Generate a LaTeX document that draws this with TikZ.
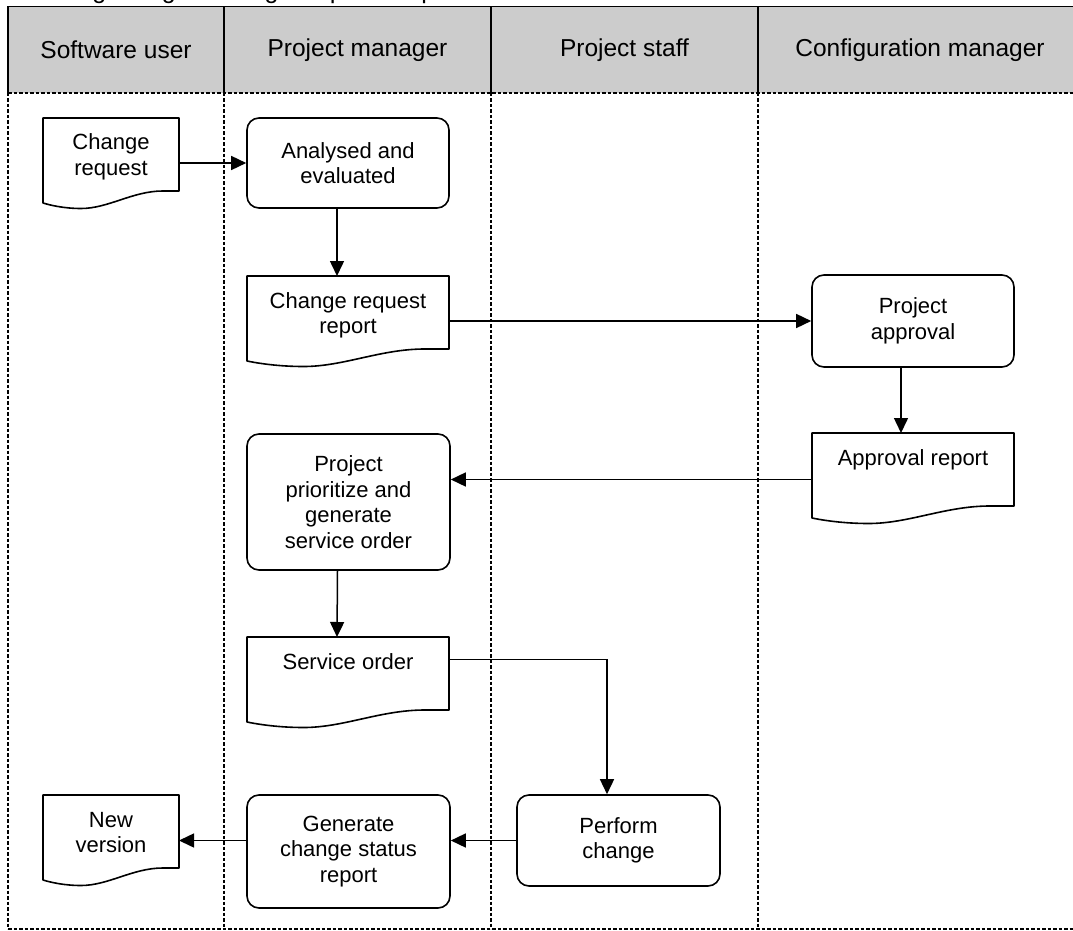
\documentclass[tikz,border=0pt]{standalone}
\usepackage{fontspec}
\setmainfont{Liberation Sans}
\usetikzlibrary{arrows.meta,calc}
\definecolor{headgray}{RGB}{204,204,204}
\tikzset{
  shapeline/.style={draw=black,line width=1.6pt,line join=round},
  procbox/.style={shapeline,rounded corners=12pt,inner sep=0pt,align=center,
    font=\fontsize{22}{25.5}\selectfont},
  docnode/.style={inner sep=0pt,outer sep=0pt,align=center,
    font=\fontsize{22}{25.5}\selectfont},
  headcell/.style={fill=headgray,inner sep=0pt,outer sep=0pt,
    font=\fontsize{24.5}{28}\selectfont},
  lanedash/.style={line width=1.2pt,dash pattern=on 3.5pt off 2pt},
  headline/.style={line width=1.4pt},
  arr/.style={line width=1.5pt,-{Triangle[length=15pt,width=14pt]}},
}
\newcommand\doctext[2]{\parbox[c][73pt][t]{#1pt}{\centering\rule{0pt}{32pt}#2\par}}
\newcommand\docoutline[2]{%
  \draw[shapeline] (#1.north west) -- (#1.north east) -- (#1.south east)
    -- ($(#1.south east)+(-0.12*#2,0)$)
    .. controls ($(#1.south east)+(-0.34*#2,0)$) and ($(#1.south west)+(0.48*#2,17.5)$)
    .. ($(#1.south west)+(0.28*#2,17.5)$)
    .. controls ($(#1.south west)+(0.16*#2,17.5)$) and ($(#1.south west)+(0.06*#2,14.5)$)
    .. ($(#1.south west)+(0,12)$) -- cycle;}
\begin{document}
\begin{tikzpicture}[x=1pt,y=-1pt]
\useasboundingbox (0,0) rectangle (1073,931);
% partially visible caption at the top
\node[anchor=base east,inner sep=0pt,font=\fontsize{25}{28}\selectfont] (cap) at (498,-1.5) {Regarding to change request's updated};
% header cells
\node[headcell,minimum width=216pt,minimum height=86.5pt] (h1) at (116,49.75) {Software user};
\node[headcell,minimum width=267pt,minimum height=86.5pt] (h2) at (357.5,49.75) {Project manager};
\node[headcell,minimum width=267pt,minimum height=86.5pt] (h3) at (624.5,49.75) {Project staff};
\node[headcell,minimum width=324pt,minimum height=86.5pt] (h4) at (920,49.75) {Configuration manager};
% header lines
\draw[headline] (8,6.5) -- (1082,6.5);
\draw[headline] (8,6.5) -- (8,93);
\draw[headline] (224,6.5) -- (224,93);
\draw[headline] (491,6.5) -- (491,93);
\draw[headline] (758,6.5) -- (758,93);
\draw[lanedash] (8,93) -- (1082,93);
% lane lines
\draw[lanedash] (8,93) -- (8,929);
\draw[lanedash] (224,93) -- (224,929);
\draw[lanedash] (491,93) -- (491,929);
\draw[lanedash] (758,93) -- (758,929);
\draw[lanedash] (8,929) -- (1082,929);
% process boxes
\node[procbox,minimum width=202pt,minimum height=90pt] (ae) at (348,163) {Analysed and\\evaluated};
\node[procbox,minimum width=202pt,minimum height=92pt] (pa) at (913,321) {Project\\approval};
\node[procbox,minimum width=203pt,minimum height=136pt] (pp) at (348.5,502) {Project\\prioritize and\\generate\\service order};
\node[procbox,minimum width=203pt,minimum height=91pt] (pc) at (618.5,840.5) {Perform\\change};
\node[procbox,minimum width=203pt,minimum height=113pt] (gc) at (348.5,851.5) {Generate\\change status\\report};
% documents
\node[docnode] (cr) at (111,154.5) {\doctext{136}{Change\\request}};
\node[docnode] (crr) at (348,312.5) {\doctext{202}{Change request\\report}};
\node[docnode] (ar) at (913,469.5) {\doctext{202}{Approval report}};
\node[docnode] (so) at (348,673.5) {\doctext{202}{Service order}};
\node[docnode] (nv) at (111,831.5) {\doctext{136}{New\\version}};
\docoutline{cr}{136}
\docoutline{crr}{202}
\docoutline{ar}{202}
\docoutline{so}{202}
\docoutline{nv}{136}
% connectors
\draw[arr] (ae.west -| cr.east) -- (ae.west);
\draw[arr] ([xshift=-11pt]ae.south) -- ([xshift=-11pt]crr.north);
\draw[arr] (pa.west -| crr.east) -- (pa.west);
\draw[arr] ([xshift=-12pt]pa.south) -- ([xshift=-12pt]ar.north);
\draw[arr] ([yshift=-10pt]ar.west) coordinate (a1) -- (a1 -| pp.east);
\draw[arr] ([xshift=-11pt]pp.south) -- ([xshift=-11pt]so.north);
\draw[arr] ([yshift=14pt]so.east) -| ([xshift=-11.5pt]pc.north);
\draw[arr] (pc.west) -- (pc.west -| gc.east);
\draw[arr] ([yshift=11pt]gc.west) coordinate (a2) -- (a2 -| nv.east);
\end{tikzpicture}
\end{document}
